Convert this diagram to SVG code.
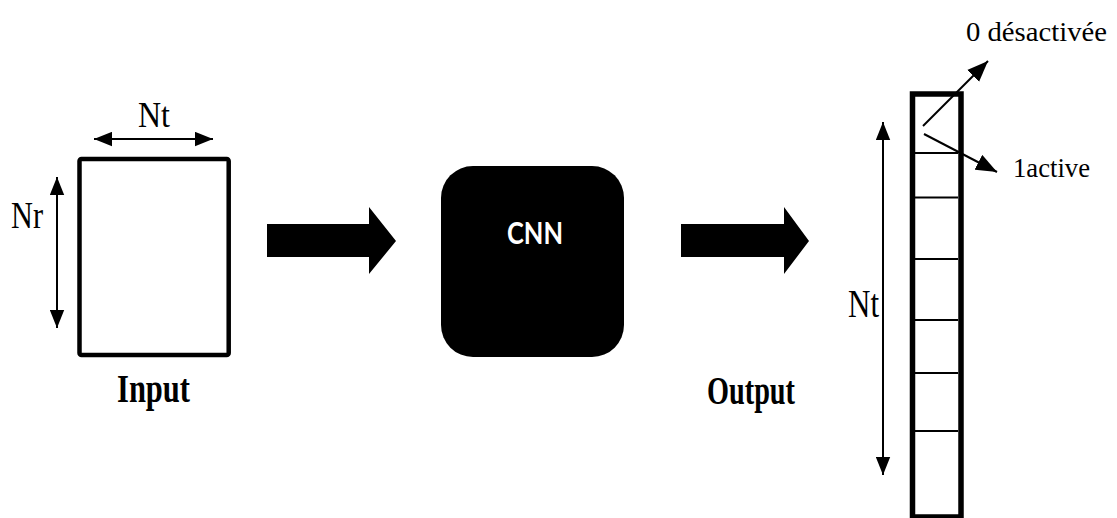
<svg xmlns="http://www.w3.org/2000/svg" width="1117" height="518" viewBox="0 0 1117 518">
  <style>
    text.serif { font-family: "Liberation Serif", "Times New Roman", serif; fill: #000; }
    text.bold { font-weight: bold; }
    .thin { stroke: #000; stroke-width: 2; fill: none; }
    .div { stroke: #000; stroke-width: 2.2; }
    .block { fill: #000; stroke: none; }
  </style>
  <defs>
    <marker id="ah" viewBox="0 0 20 16" refX="20" refY="8" markerWidth="18" markerHeight="15" markerUnits="userSpaceOnUse" orient="auto-start-reverse">
      <path d="M0,0 L20,8 L0,16 z" fill="#000"/>
    </marker>
    <marker id="ah2" viewBox="0 0 20 16" refX="20" refY="8" markerWidth="21" markerHeight="17" markerUnits="userSpaceOnUse" orient="auto">
      <path d="M0,0 L20,8 L0,16 z" fill="#000"/>
    </marker>
  </defs>
  <rect width="1117" height="518" fill="#fff"/>

  <g id="input">
    <rect x="79.5" y="159" width="149.2" height="196" rx="2" fill="#fff" stroke="#000" stroke-width="4.5"/>
    <text class="serif" font-family="Liberation Serif, serif" x="138" y="127" font-size="35" textLength="32" lengthAdjust="spacingAndGlyphs">Nt</text>
    <text class="serif" font-family="Liberation Serif, serif" x="11" y="228" font-size="37" textLength="32" lengthAdjust="spacingAndGlyphs">Nr</text>
    <text class="serif bold" font-family="Liberation Serif, serif" x="117" y="402" font-size="39" textLength="73" lengthAdjust="spacingAndGlyphs">Input</text>
  </g>

  <g id="cnn">
    <rect x="441" y="166" width="183" height="191" rx="32" ry="32" fill="#000"/>
    <text x="507" y="244" font-family="Lato, 'Open Sans', sans-serif" font-weight="bold" font-size="31" fill="#fff" textLength="56" lengthAdjust="spacingAndGlyphs">CNN</text>
  </g>

  <g id="output">
    <rect x="912.5" y="94" width="48.5" height="423" fill="#fff" stroke="#000" stroke-width="5.5"/>
    <line class="div" x1="915" y1="153" x2="958" y2="153"/>
    <line class="div" x1="915" y1="197.5" x2="958" y2="197.5"/>
    <line class="div" x1="915" y1="259" x2="958" y2="259"/>
    <line class="div" x1="915" y1="320" x2="958" y2="320"/>
    <line class="div" x1="915" y1="373" x2="958" y2="373"/>
    <line class="div" x1="915" y1="431" x2="958" y2="431"/>
    <text class="serif" font-family="Liberation Serif, serif" x="848" y="317" font-size="40" textLength="31" lengthAdjust="spacingAndGlyphs">Nt</text>
    <text class="serif bold" font-family="Liberation Serif, serif" x="707" y="404" font-size="39" textLength="88" lengthAdjust="spacingAndGlyphs">Output</text>
    <text class="serif" font-family="Liberation Serif, serif" x="966" y="41" font-size="28" textLength="141" lengthAdjust="spacingAndGlyphs">0 désactivée</text>
    <text class="serif" font-family="Liberation Serif, serif" x="1013" y="177" font-size="28" textLength="77" lengthAdjust="spacingAndGlyphs">1active</text>
  </g>

  <g id="connectors">
    <polygon class="block" points="267,224 369,224 369,207 396,241 369,274 369,257 267,257"/>
    <polygon class="block" points="681,224 784,224 784,207 809,241 784,274 784,257 681,257"/>
    <line class="thin" x1="94" y1="139" x2="213" y2="139" marker-start="url(#ah)" marker-end="url(#ah)"/>
    <line class="thin" x1="57" y1="177" x2="57" y2="328" marker-start="url(#ah)" marker-end="url(#ah)"/>
    <line class="thin" x1="883" y1="122" x2="883" y2="475" marker-start="url(#ah)" marker-end="url(#ah)"/>
    <line class="thin" x1="923" y1="126" x2="988" y2="61" stroke-width="2.5" marker-end="url(#ah2)"/>
    <line class="thin" x1="924" y1="134" x2="997" y2="172" stroke-width="2.5" marker-end="url(#ah2)"/>
  </g>
</svg>
